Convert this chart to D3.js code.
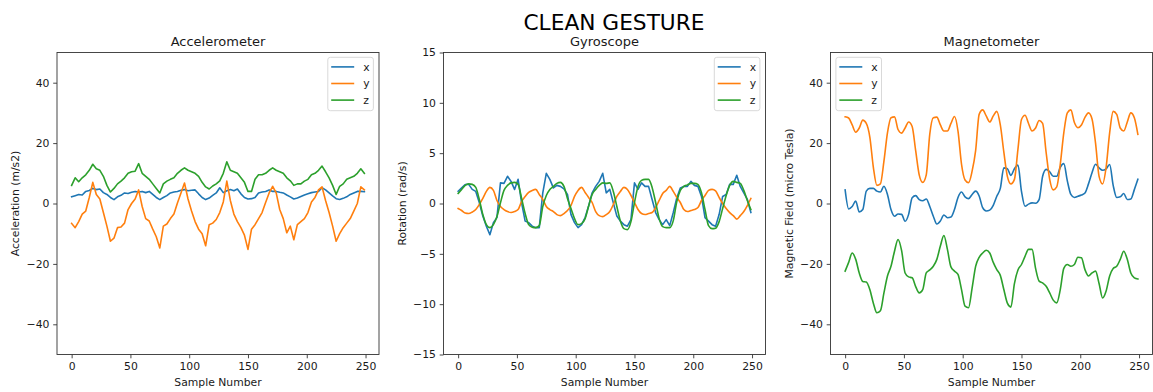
<!DOCTYPE html>
<html>
<head>
<meta charset="utf-8">
<script src="https://cdn.jsdelivr.net/npm/d3@7"></script>
<style>
  body { margin: 0; background: #fff; }
  svg text { font-family: "DejaVu Sans", sans-serif; fill: #1a1a1a; }
</style>
</head>
<body>
<div id="chart"></div>
<script>
// sample numbers the values were read at (every 3rd sample)
const sampleIdx = [0,3,6,9,12,15,18,21,24,27,30,33,36,39,42,45,48,51,54,57,
  60,63,66,69,72,75,78,81,84,87,90,93,96,99,102,105,108,111,114,117,
  120,123,126,129,132,135,138,141,144,147,150,153,156,159,162,165,168,171,174,177,
  180,183,186,189,192,195,198,201,204,207,210,213,216,219,222,225,228,231,234,237,
  240,243,246,249];

const seriesNames = ["x", "y", "z"];

// accelerometer (m/s2)
const accX = [2.2,2.6,3.0,2.8,4.0,4.3,5.0,4.6,4.8,3.6,
  3.0,2.0,1.3,2.2,2.7,3.5,3.3,3.7,4.0,3.8,
  4.0,3.6,4.0,3.0,2.0,1.3,2.0,2.6,3.5,3.8,
  4.0,4.4,4.6,4.2,4.4,4.5,3.2,2.0,1.3,1.8,
  2.7,3.5,5.2,3.6,4.2,4.6,4.2,4.8,3.2,2.0,
  1.5,1.6,2.0,3.5,3.8,4.0,4.5,4.0,4.0,3.7,
  3.5,2.8,2.2,1.5,1.8,2.3,2.8,3.2,3.6,3.8,
  4.0,5.2,4.5,3.5,2.5,1.6,1.3,1.7,2.2,3.0,
  3.5,4.0,4.0,3.9];
const accY = [-6.6,-8.0,-6.0,-3.5,-2.5,2.0,7.0,3.0,1.5,-3.0,
  -7.5,-12.5,-11.5,-8.0,-7.8,-6.5,-2.0,0.0,1.5,4.5,
  -1.0,-5.0,-5.8,-8.5,-11.0,-14.7,-7.5,-6.8,-5.0,-3.5,
  0.2,3.5,6.8,1.5,-2.5,-6.0,-8.5,-10.0,-14.0,-7.0,
  -6.5,-5.3,-3.0,0.5,7.4,1.0,-3.5,-6.0,-8.0,-10.5,
  -15.2,-8.5,-7.0,-5.0,-3.0,0.3,3.5,5.7,3.5,-2.0,
  -5.0,-9.7,-7.5,-12.0,-7.0,-6.0,-5.0,-3.0,0.5,2.0,
  4.5,5.5,1.0,-3.0,-7.5,-12.5,-10.0,-8.0,-6.5,-5.0,
  -2.5,0.0,5.5,4.5];
const accZ = [6.0,8.5,7.2,8.5,9.5,11.0,13.0,11.5,11.0,9.0,
  6.0,3.8,5.0,6.5,7.4,8.5,10.0,10.5,10.7,13.2,
  10.0,9.0,8.0,6.5,5.0,3.5,6.5,7.4,8.0,8.5,
  10.0,11.0,11.8,11.0,10.5,10.0,9.0,7.0,5.5,4.8,
  5.8,6.5,7.5,10.0,13.8,11.0,10.5,10.0,8.5,7.0,
  4.0,4.0,8.0,9.5,9.5,10.0,11.0,11.8,11.0,10.5,
  10.0,8.5,7.5,6.0,6.5,6.5,7.4,8.0,9.5,10.0,
  11.0,12.4,10.5,8.5,6.0,3.0,5.7,6.5,8.0,8.5,
  9.0,10.0,11.5,10.0];

// gyroscope (rad/s)
const gyroX = [1.22,1.55,1.88,1.9,1.4,1.2,0.1,-1.25,-2.25,-3.1,
  -1.9,-1.4,2.05,2.0,2.7,2.2,1.4,2.4,0.07,-1.75,
  -1.9,-2.25,-2.4,-2.4,1.06,3.0,2.4,1.55,1.8,1.7,
  1.45,0.9,-1.1,-1.9,-2.4,-2.1,-1.4,-0.25,1.06,1.7,
  2.2,3.0,1.06,1.4,0.07,-1.25,-1.75,-2.1,-2.25,-1.6,
  2.05,1.4,2.05,1.7,1.7,0.4,-0.9,-1.6,-2.1,-1.6,
  -2.2,-0.9,0.55,1.55,1.7,1.7,2.2,1.8,1.7,0.7,
  -1.4,-1.75,-2.1,-2.25,-1.1,0.7,0.9,1.9,1.9,2.8,
  1.7,1.06,0.4,-0.9];
const gyroY = [-0.5,-0.7,-0.95,-1.0,-0.85,-0.6,-0.1,0.5,1.2,1.6,
  1.3,0.3,-0.3,-0.6,-0.8,-0.9,-0.8,-0.6,0.2,0.7,
  1.1,1.3,1.4,0.9,0.4,-0.3,-0.6,-0.8,-1.1,-1.2,
  -1.0,-0.7,-0.2,0.7,1.3,1.6,1.1,0.6,0.1,-0.8,
  -1.2,-1.3,-1.1,-0.8,-0.1,0.7,1.2,1.6,1.4,0.8,
  0.1,-0.6,-1.0,-1.1,-1.0,-0.9,-0.4,0.3,1.0,1.3,
  1.7,1.2,0.6,0.1,-0.6,-0.8,-0.7,-0.6,-0.4,0.3,
  0.8,1.3,1.4,1.25,0.6,0.0,-0.5,-0.9,-1.2,-1.55,
  -1.2,-0.8,-0.2,0.5];
const gyroZ = [1.0,1.4,1.8,1.95,1.9,1.6,0.4,-1.1,-2.1,-2.4,
  -2.1,-1.3,0.07,1.3,1.8,2.05,2.1,1.9,0.5,-1.0,
  -2.1,-2.35,-2.4,-2.2,-0.3,0.8,1.4,1.7,2.0,2.1,
  1.7,0.5,-0.5,-1.5,-2.1,-2.0,-1.5,-0.25,0.9,1.4,
  1.8,2.05,2.0,2.05,1.2,-0.3,-1.75,-2.5,-2.6,-1.8,
  0.1,1.7,2.3,2.4,2.4,1.6,0.1,-1.5,-2.3,-2.4,
  -2.4,-1.7,0.2,1.3,1.7,1.85,2.0,2.0,1.9,1.06,
  -0.6,-2.2,-2.5,-2.45,-1.8,-0.5,0.8,1.8,2.2,2.1,
  2.0,1.3,0.3,-0.6];

// magnetometer (micro Tesla)
const magX = [4.5,-1.8,-1.0,0.8,-2.8,-2.0,4.1,5.0,5.0,4.1,
  3.8,5.7,3.0,-2.0,-4.2,-3.5,-3.6,-5.9,-3.6,1.9,
  2.6,1.3,0.9,1.5,-1.0,-4.2,-6.8,-5.8,-3.8,-4.7,
  -4.5,-2.0,2.0,3.8,2.2,1.6,3.0,4.1,2.5,-1.4,
  -2.5,-2.2,-0.6,2.4,5.0,11.8,11.5,9.3,11.5,12.7,
  4.0,-0.9,-0.2,0.2,0.1,1.3,9.0,11.3,10.5,9.0,
  9.0,12.0,13.2,7.5,3.0,2.0,2.4,2.8,3.5,6.5,
  10.2,13.0,11.8,11.0,11.5,12.9,6.0,2.0,2.2,3.3,
  1.3,1.5,4.6,8.0];
const magY = [28.7,28.3,26.0,23.6,25.0,27.6,26.5,22.0,12.0,6.0,
  6.5,14.0,23.4,28.4,28.7,24.5,23.3,25.0,27.0,25.5,
  17.5,9.5,7.0,9.5,23.0,28.4,28.6,26.0,24.0,24.0,
  26.5,28.8,24.0,13.0,7.8,6.9,10.7,17.5,29.5,31.0,
  29.0,27.0,29.0,30.5,26.0,17.0,9.0,6.5,8.0,18.0,
  27.8,29.2,26.5,24.0,25.0,27.5,26.5,16.8,8.0,4.5,
  5.5,13.0,23.4,30.0,31.0,26.8,25.1,26.0,28.5,30.0,
  28.0,20.0,9.0,6.5,12.0,23.4,30.5,29.5,25.0,24.0,
  27.0,30.0,28.4,22.9];
const magZ = [-22.4,-19.5,-16.4,-18.5,-23.0,-25.8,-26.0,-28.5,-33.0,-36.2,
  -35.5,-29.6,-24.0,-20.8,-15.8,-11.9,-15.5,-23.0,-24.3,-24.6,
  -27.5,-29.6,-28.5,-23.0,-22.0,-20.8,-18.5,-14.1,-10.6,-15.2,
  -21.0,-22.4,-23.5,-28.5,-34.0,-34.5,-28.0,-20.8,-17.8,-16.4,
  -15.5,-16.4,-19.5,-21.9,-23.8,-28.5,-33.0,-34.3,-26.5,-22.0,
  -20.2,-17.5,-15.2,-15.2,-21.5,-25.7,-26.3,-27.4,-29.6,-32.0,
  -32.9,-28.5,-21.5,-20.2,-20.8,-20.2,-17.8,-18.0,-21.9,-24.0,
  -23.0,-22.4,-26.5,-31.3,-29.0,-24.0,-21.5,-20.8,-18.5,-15.8,
  -18.5,-23.0,-24.6,-25.0];

// smooth: which series of the panel look smooth (drawn with a monotone curve)
const panels = [
  { title: "Accelerometer", ylabel: "Acceleration (m/s2)", series: [accX, accY, accZ],
    smooth: [false, false, false],
    yDomain: [-50, 50], yTicks: [-40, -20, 0, 20, 40], legend: "right", left: 57 },
  { title: "Gyroscope", ylabel: "Rotation (rad/s)", series: [gyroX, gyroY, gyroZ],
    smooth: [false, true, true],
    yDomain: [-15, 15], yTicks: [-15, -10, -5, 0, 5, 10, 15], legend: "right", left: 443.5 },
  { title: "Magnetometer", ylabel: "Magnetic Field (micro Tesla)", series: [magX, magY, magZ],
    smooth: [true, true, true],
    yDomain: [-50, 50], yTicks: [-40, -20, 0, 20, 40], legend: "left", left: 830.5 }
];

const width = 1153, height = 392;
const marginTop = 52.5, w = 322, h = 302;
const colors = ["#1f77b4", "#ff7f0e", "#2ca02c"];
const fmt = d => d < 0 ? "\u2212" + Math.abs(d) : String(d);

const svg = d3.select("#chart").append("svg")
  .attr("width", width)
  .attr("height", height);

svg.append("text")
  .attr("x", 614)
  .attr("y", 30)
  .attr("text-anchor", "middle")
  .style("font-size", "21.7px")
  .style("fill", "#000")
  .text("CLEAN GESTURE");

panels.forEach(function(p) {
  let g = svg.append("g").attr("transform", "translate(" + p.left + "," + marginTop + ")");

  let x = d3.scaleLinear().domain([-12.45, 261.45]).range([0, w]);
  let y = d3.scaleLinear().domain(p.yDomain).range([h, 0]);

  p.series.forEach(function(vals, k) {
    let line = d3.line()
      .x((d, i) => x(sampleIdx[i]))
      .y(d => y(d))
      .curve(p.smooth[k] ? d3.curveMonotoneX : d3.curveLinear);

    g.append("path")
      .datum(vals)
      .attr("fill", "none")
      .attr("stroke", colors[k])
      .attr("stroke-width", 1.6)
      .attr("stroke-linejoin", "round")
      .attr("stroke-linecap", "square")
      .attr("d", line);
  });

  let xAxis = g.append("g")
    .attr("transform", "translate(0," + h + ")")
    .call(d3.axisBottom(x).tickValues([0, 50, 100, 150, 200, 250]).tickSize(3.8).tickPadding(3.8));
  let yAxis = g.append("g")
    .call(d3.axisLeft(y).tickValues(p.yTicks).tickFormat(fmt).tickSize(3.8).tickPadding(3.8));
  [xAxis, yAxis].forEach(function(a) {
    a.select(".domain").remove();
    a.selectAll(".tick line").attr("stroke", "#333").attr("stroke-width", 0.9);
    a.selectAll(".tick text").style("font-size", "10.8px").style("font-family", "DejaVu Sans, sans-serif").attr("fill", "#1a1a1a");
  });

  // frame
  g.append("rect")
    .attr("width", w)
    .attr("height", h)
    .attr("fill", "none")
    .attr("stroke", "#333")
    .attr("stroke-width", 0.9);

  g.append("text")
    .attr("x", w / 2)
    .attr("y", -7)
    .attr("text-anchor", "middle")
    .style("font-size", "13px")
    .text(p.title);

  g.append("text")
    .attr("x", w / 2)
    .attr("y", h + 31.5)
    .attr("text-anchor", "middle")
    .style("font-size", "10.8px")
    .text("Sample Number");

  g.append("text")
    .attr("transform", "translate(-41.5," + (h / 2) + ") rotate(-90)")
    .attr("dy", "0.35em")
    .attr("text-anchor", "middle")
    .style("font-size", "10.8px")
    .text(p.ylabel);

  // legend
  let lw = 45.6, lh = 53.4;
  let lx = p.legend === "right" ? w - 5.6 - lw : 5.4;
  let leg = g.append("g").attr("transform", "translate(" + lx + ",4.8)");
  leg.append("rect")
    .attr("width", lw)
    .attr("height", lh)
    .attr("rx", 2.5)
    .attr("fill", "#fff")
    .attr("fill-opacity", 0.8)
    .attr("stroke", "#d5d5d5")
    .attr("stroke-width", 0.9);
  seriesNames.forEach(function(name, k) {
    let ly = 9.6 + k * 16.6;
    leg.append("line")
      .attr("x1", 3.4).attr("x2", 26.4)
      .attr("y1", ly).attr("y2", ly)
      .attr("stroke", colors[k])
      .attr("stroke-width", 1.6);
    leg.append("text")
      .attr("x", 35.4)
      .attr("y", ly + 3.8)
      .style("font-size", "10.8px")
      .text(name);
  });
});
</script>
</body>
</html>
